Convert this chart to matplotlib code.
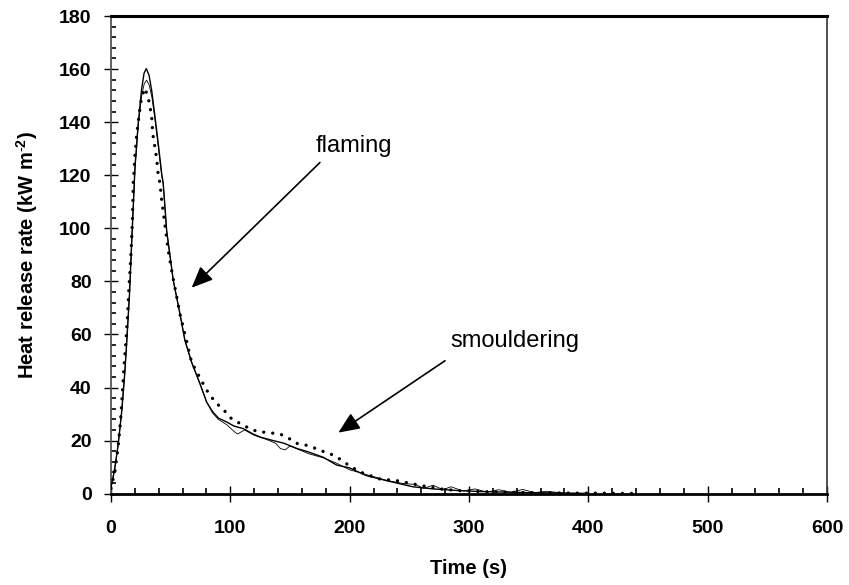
import matplotlib
matplotlib.use("Agg")
import matplotlib.pyplot as plt
from matplotlib.ticker import MultipleLocator

plt.rcParams['font.family'] = ['Liberation Sans', 'DejaVu Sans']
plt.rcParams['mathtext.fontset'] = 'custom'
plt.rcParams['mathtext.rm'] = 'Liberation Sans'
plt.rcParams['mathtext.bf'] = 'Liberation Sans:bold'

# ---- data ----
solid_t = [0, 3, 6.1, 9.0, 11.5, 13.2, 15.5, 17.4, 20.1, 22.9, 25.7, 27.7, 29.6, 31.9, 34.1, 36.9,
           39.6, 42.5, 43.8, 46.7, 52.2, 57.8, 62.0, 67.6, 74.6, 80.2, 85.0, 90.0, 97.0, 103.0,
           111.0, 119.0, 126.0, 136.0, 145.0, 156.0, 165.0, 178.0, 189.0, 200.0, 214.0, 231.0,
           253.0, 270.0, 290.0, 310.0, 330.0, 350.0, 370.0, 400.0]
solid_v = [2.4, 9, 18.7, 31, 45, 57, 75, 95, 123, 140, 152.5, 158.4, 160.2, 157.7, 152, 142,
           132, 120.6, 116.9, 99, 80.4, 67.8, 57.7, 49.5, 41.4, 34.5, 31, 28.5, 27, 25.5,
           24.5, 22.5, 21.2, 20, 19, 17, 15.8, 13.7, 10.8, 9.7, 6.8, 4.9,
           2.6, 1.8, 1.2, 0.8, 0.6, 0.4, 0.3, 0.1]

thin_t = [0, 3, 6.1, 9.0, 11.5, 13.2, 15.5, 17.4, 20.1, 22.9, 25.7, 27.9, 29.9, 32.0, 34.3, 36.9,
          39.6, 42.5, 43.8, 46.7, 52.2, 57.8, 62.0, 67.6, 74.6, 80.2, 85.0, 90.0, 97.0, 103.0,
          106.0, 112.0, 120.0, 130.0, 138.0, 142.0, 146.0, 150.0, 158.0, 166.0, 178.0, 189.0,
          200.0, 214.0, 231.0, 245.0, 255.0, 262.0, 270.0, 278.0, 285.0, 295.0, 305.0, 315.0,
          325.0, 335.0, 345.0, 355.0, 365.0, 380.0]
thin_v = [2.0, 9, 18.7, 31, 45, 57, 75, 95, 122, 139, 150, 154.5, 155.8, 154, 149.5, 141,
          131, 120, 116.5, 99, 80.4, 67.8, 57.7, 49.5, 41.4, 34.5, 30.5, 28.0, 26.0, 23.5,
          22.5, 24.0, 22.0, 20.5, 19.0, 17.0, 16.5, 18.0, 16.5, 15.0, 13.5, 11.5,
          9.0, 7.2, 5.0, 3.8, 3.5, 2.0, 3.2, 1.5, 2.6, 1.0, 1.8, 0.6,
          1.5, 0.5, 1.6, 0.4, 0.9, 0.2]

dot_t = [0, 3.4, 6.1, 8.1, 9.5, 10.9, 12.6, 14.0, 15.1, 16.5, 17.9, 18.7, 20.1, 21.5, 23.7, 25.7,
         28.5, 31.3, 32.7, 34.1, 35.0, 36.3, 38.3, 39.6, 41.1, 42.5, 48.0, 50.9, 57.8, 67.6,
         78.8, 83.0, 89.1, 95.6, 101.7, 108.1, 115.1, 122.1, 129.7, 141.7, 148.6, 155.1,
         161.8, 169.1, 175.8, 183.0, 189.7, 197.6, 204.5, 211.5, 225.5, 239.5, 246.4, 260.4,
         268.8, 275.8, 290.0, 310.0, 330.0, 350.0, 370.0, 390.0, 410.0, 425.0, 442.0]
dot_v = [2.0, 8.7, 18.0, 27.8, 37.6, 47.7, 57.7, 67.8, 77.8, 87.9, 101.8, 116.9, 127.5, 135, 143.3, 149.5,
         152.8, 149, 145.8, 142, 135.7, 132, 126.3, 120, 117, 110.6, 91.7, 84, 67.8, 49.5,
         40.1, 37, 33.8, 31, 27.9, 26.5, 24.8, 23.5, 23.1, 22.5, 21, 19,
         18.5, 17.5, 16.2, 15.2, 13.7, 11.2, 9.3, 7.7, 5.5, 4.9, 4.3, 3,
         2.4, 1.8, 1.2, 0.8, 0.6, 0.4, 0.3, 0.2, 0.2, 0.1, 0.1]

x_ticks = [0, 100, 200, 300, 400, 500, 600]
y_ticks = [0, 20, 40, 60, 80, 100, 120, 140, 160, 180]

# ---- figure ----
fig = plt.figure(figsize=(8.49, 5.85), dpi=100)
ax = fig.add_axes([0.1307, 0.1561, 0.8434, 0.8165])

ax.plot(thin_t, thin_v, color='black', lw=0.6, zorder=3)
ax.plot(solid_t, solid_v, color='black', lw=1.0, zorder=4)
ax.plot(dot_t, dot_v, color='black', lw=2.4, linestyle=(0, (0.01, 2.7)),
        dash_capstyle='round', zorder=5)

ax.set_xlim(0, 600)
ax.set_ylim(0, 180)
ax.set_xticks(x_ticks)
ax.set_yticks(y_ticks)
ax.xaxis.set_minor_locator(MultipleLocator(20))
ax.yaxis.set_minor_locator(MultipleLocator(4))

ax.tick_params(axis='x', which='major', direction='inout', length=12, width=1.0,
               labelsize=14, pad=13)
ax.tick_params(axis='y', which='major', direction='inout', length=10, width=1.0,
               labelsize=14, pad=9)
ax.tick_params(axis='x', which='minor', direction='in', length=4.5, width=1.2)
ax.tick_params(axis='y', which='minor', direction='in', length=3.6, width=1.2)
for lab in ax.get_xticklabels() + ax.get_yticklabels():
    lab.set_fontweight('bold')

ax.spines['top'].set_linewidth(2.2)
ax.spines['bottom'].set_linewidth(2.0)
ax.spines['left'].set_linewidth(1.3)
ax.spines['left'].set_color('#555555')
ax.spines['right'].set_linewidth(1.2)
ax.spines['right'].set_color('#333333')

ax.set_xlabel('Time (s)', fontsize=14.5, fontweight='bold', labelpad=16)
ax.set_ylabel(r'Heat release rate (kW m$\mathbf{^{\text{-}2}}$)', fontsize=14.5,
              fontweight='bold', labelpad=14)

arrow = dict(arrowstyle='-|>,head_length=0.65,head_width=0.28', color='black',
             lw=1.2, shrinkA=0, shrinkB=0, mutation_scale=20)
ax.annotate('', xy=(67.6, 77.6), xytext=(175.1, 124.8), arrowprops=arrow)
ax.annotate('', xy=(190.5, 23.0), xytext=(279.9, 50.1), arrowprops=arrow)
ax.text(203.6, 128.6, 'flaming', fontsize=17, ha='center', va='baseline')
ax.text(338.6, 55.4, 'smouldering', fontsize=17, ha='center', va='baseline')

fig.savefig('out.png', dpi=100)
